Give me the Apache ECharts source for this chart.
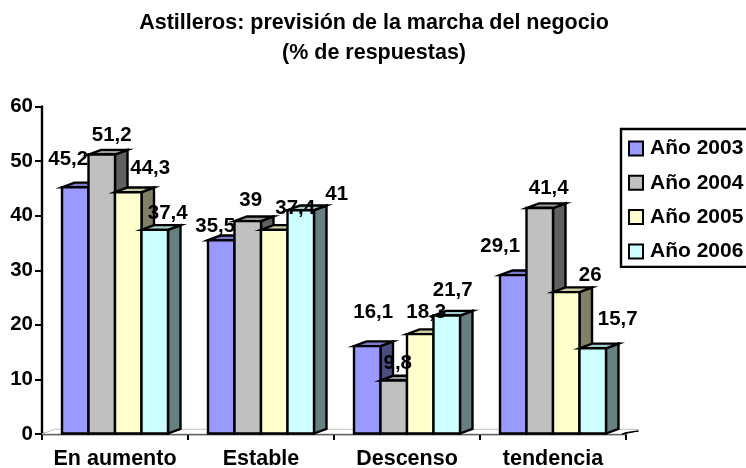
<!DOCTYPE html>
<html>
<head>
<meta charset="utf-8">
<script src="https://cdn.jsdelivr.net/npm/echarts@6/dist/echarts.min.js"></script>
<style>html,body{margin:0;padding:0;background:#fff}#c{width:746px;height:468px}</style>
</head>
<body>
<div id="c"></div>
<script>
const categories = ['En aumento', 'Estable', 'Descenso', 'tendencia'];
const yearNames = ['Año 2003', 'Año 2004', 'Año 2005', 'Año 2006'];
const values2003 = [45.2, 35.5, 16.1, 29.1];
const values2004 = [51.2, 39, 9.8, 41.4];
const values2005 = [44.3, 37.4, 18.3, 26];
const values2006 = [37.4, 41, 21.7, 15.7];
const yTicks = [0, 60, 10];

const allValues = [values2003, values2004, values2005, values2006];
const frontColors = ['#9999FF', '#C0C0C0', '#FFFFCC', '#CCFFFF'];
const topColors = ['#7A7ACC', '#9A9A9A', '#CCCCA3', '#A3CCCC'];
const sideColors = ['#4C4C80', '#606060', '#808066', '#668080'];
// label placement relative to each bar's top centre, by series then category
const labelShift = [
  [[-7, -28], [-6, -14], [6, -33], [-13, -29]],
  [[10, -19], [3, -21], [4, -16.5], [9, -19]],
  [[22, -24], [21, -21], [6, -21], [24, -16]],
  [[13, -16], [36, -16], [6, -25], [25, -29]]
];
const DX = 12.5, DY = 4.7, FONT = 'Liberation Sans, Arial, sans-serif';

function barRenderer(si) {
  return function (params, api) {
    const cat = api.value(0), v = api.value(1);
    const base = api.coord([cat, 0]), top = api.coord([cat, v]);
    const band = api.size([1, 0])[0];
    const w = band * 0.1815;
    const x0 = base[0] + (si - 2) * w, x1 = x0 + w;
    const yb = base[1] - 0.5, yt = top[1];
    const stroke = { stroke: '#000', lineWidth: 2.4, lineJoin: 'miter' };
    const poly = (pts, fill) => ({ type: 'polygon', shape: { points: pts }, style: Object.assign({ fill: fill }, stroke) });
    const sh = labelShift[si][cat];
    return {
      type: 'group',
      children: [
        poly([[x1, yb], [x1 + DX, yb - DY], [x1 + DX, yt - DY], [x1, yt]], sideColors[si]),
        poly([[x0, yt], [x0 + DX, yt - DY], [x1 + DX, yt - DY], [x1, yt]], topColors[si]),
        poly([[x0, yb], [x0, yt], [x1, yt], [x1, yb]], frontColors[si]),
        {
          type: 'text', x: (x0 + x1) / 2 + sh[0], y: yt + sh[1], scaleX: 1.05, z2: 100,
          style: {
            text: String(v).replace('.', ','), fill: '#000', font: 'bold 19.5px ' + FONT,
            align: 'center', verticalAlign: 'middle'
          }
        }
      ]
    };
  };
}

function floorRenderer(params, api) {
  const p0 = api.coord([0, 0]), pN = api.coord([categories.length - 1, 0]);
  const half = api.size([1, 0])[0] / 2;
  const l = p0[0] - half, r = pN[0] + half, y = p0[1];
  return {
    type: 'group',
    children: [
      { type: 'polygon', shape: { points: [[l, y], [r, y], [r + DX, y - DY], [l + DX, y - DY]] },
        style: { fill: '#fff', stroke: '#C0C0C0', lineWidth: 1 } },
      { type: 'polygon', shape: { points: [[r - 4, y], [r + DX, y - 3], [r, y - 1.5]] },
        style: { fill: '#000', stroke: '#000', lineWidth: 1 } }
    ]
  };
}

const series = [{
  type: 'custom', name: '_floor', renderItem: floorRenderer, silent: true, z: 1,
  data: [[0, 0]], encode: { x: 0, y: 1 }
}].concat(yearNames.map((name, si) => ({
  type: 'custom', name: name, z: 3,
  renderItem: barRenderer(si),
  itemStyle: { color: frontColors[si], borderColor: '#000', borderWidth: 2 },
  encode: { x: 0, y: 1 },
  data: categories.map((c, ci) => [ci, allValues[si][ci]])
})));

const chart = echarts.init(document.getElementById('c'), null, { renderer: 'canvas' });
chart.setOption({
  animation: false,
  backgroundColor: '#fff',
  title: {
    text: 'Astilleros: previsión de la marcha del negocio\n(% de respuestas)',
    left: 374, top: 8.75, padding: 0, textAlign: 'center',
    textStyle: { fontFamily: FONT, fontWeight: 'bold', fontSize: 21.5, lineHeight: 29.5, color: '#000' }
  },
  legend: {
    data: yearNames, orient: 'vertical', left: 621, top: 129,
    icon: 'rect', itemWidth: 14, itemHeight: 14, itemGap: 13.3,
    padding: [9, 20, 5, 7],
    borderColor: '#000', borderWidth: 2.4, backgroundColor: '#fff',
    textStyle: { fontFamily: FONT, fontWeight: 'bold', fontSize: 21, color: '#000', padding: [0, 0, 0, 2] }
  },
  grid: { left: 42, top: 106.5, width: 584, height: 327.5, containLabel: false, outerBoundsMode: 'none' },
  xAxis: {
    type: 'category', data: categories,
    axisLine: { lineStyle: { color: '#000', width: 2.4 } },
    axisTick: { show: true, length: 6, lineStyle: { color: '#000', width: 2 } },
    axisLabel: { fontFamily: FONT, fontWeight: 'bold', fontSize: 21.5, color: '#000', margin: 14, interval: 0 }
  },
  yAxis: {
    type: 'value', min: yTicks[0], max: yTicks[1], interval: yTicks[2],
    splitLine: { show: false },
    axisLine: { show: true, lineStyle: { color: '#000', width: 2.4 } },
    axisTick: { show: true, length: 7, lineStyle: { color: '#000', width: 2 } },
    axisLabel: { fontFamily: FONT, fontWeight: 'bold', fontSize: 20.5, color: '#000', margin: 9 }
  },
  series: series
});
</script>
</body>
</html>
